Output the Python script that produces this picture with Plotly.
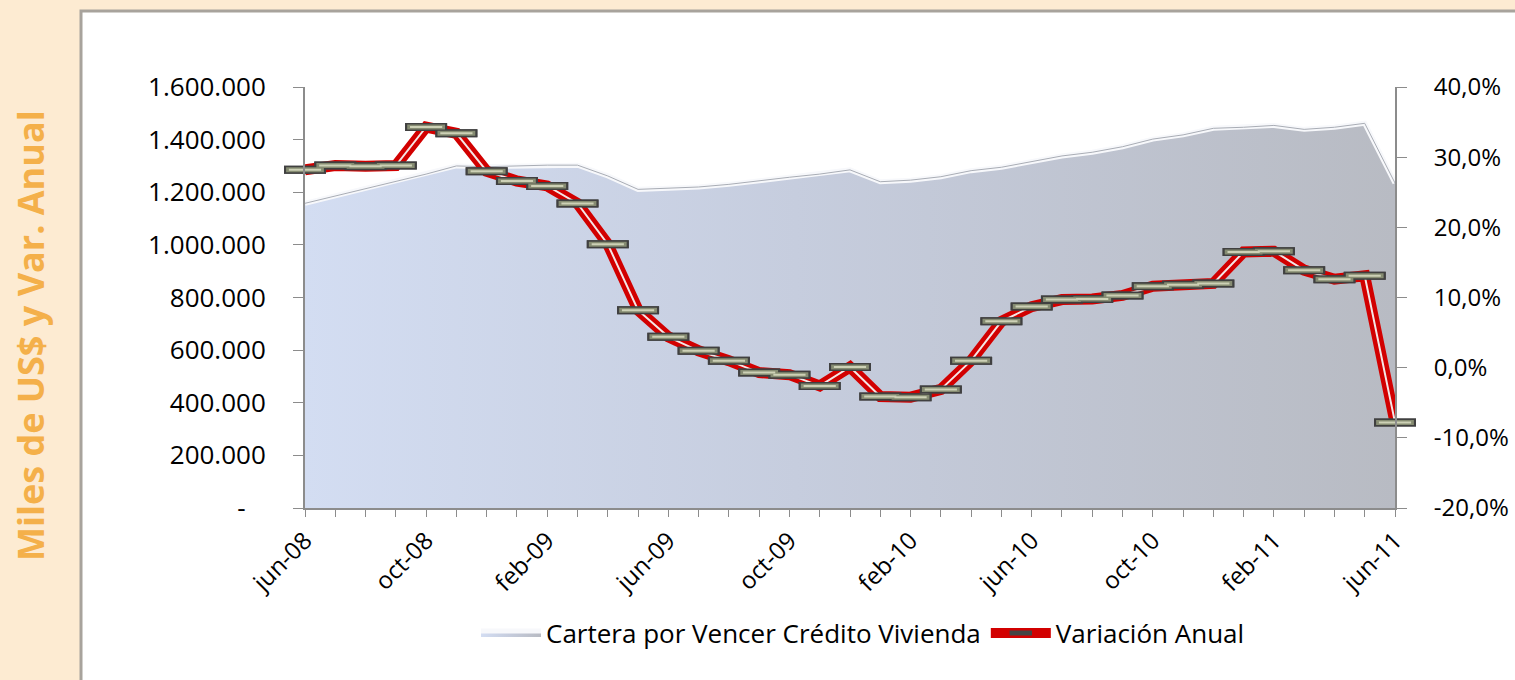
import plotly.graph_objects as go

# monthly categories jun-08 .. jun-11
mes_abrev = ["ene", "feb", "mar", "abr", "may", "jun", "jul", "ago", "sep", "oct", "nov", "dic"]
meses = []
for anio in range(8, 12):
    for m in mes_abrev:
        meses.append(f"{m}-{anio:02d}")
meses = meses[meses.index("jun-08"):meses.index("jun-11") + 1]

# Cartera por Vencer Credito Vivienda (miles de US$)
cartera = [1158000, 1186000, 1213000, 1240000, 1269000, 1300000, 1297000, 1300000,
           1303000, 1303000, 1262000, 1211000, 1215000, 1220000, 1230000, 1244000,
           1257000, 1269000, 1285000, 1240000, 1246000, 1259000, 1282000, 1295000,
           1317000, 1338000, 1352000, 1373000, 1402000, 1418000, 1443000, 1447000,
           1454000, 1439000, 1447000, 1462000, 1235000]

# Variacion anual (%)
variacion = [28.2, 28.8, 28.7, 28.8, 34.3, 33.4, 28.0, 26.6, 25.9, 23.4, 17.6, 8.2,
             4.4, 2.4, 1.0, -0.7, -1.0, -2.6, 0.1, -4.1, -4.2, -3.1, 1.0, 6.6,
             8.7, 9.7, 9.8, 10.3, 11.6, 11.8, 12.0, 16.5, 16.6, 13.9, 12.6, 13.1, -7.8]

left_vals = [0, 200000, 400000, 600000, 800000, 1000000, 1200000, 1400000, 1600000]
left_text = ["-\u00a0\u00a0\u00a0", "200.000", "400.000", "600.000", "800.000",
             "1.000.000", "1.200.000", "1.400.000", "1.600.000"]
right_vals = [-20, -10, 0, 10, 20, 30, 40]
right_text = ["-20,0%", "-10,0%", "0,0%", "10,0%", "20,0%", "30,0%", "40,0%"]

x_text = [m if i % 4 == 0 else "" for i, m in enumerate(meses)]

FONT = "Open Sans"
W, H = 1515, 680
ML, MR, MT, MB = 305, 120, 87, 172
pw, ph = W - ML - MR, H - MT - MB


def px(x):
    return (x - ML) / pw


def py(y):
    return (H - MB - y) / ph


fig = go.Figure()

fig.add_trace(go.Scatter(
    x=meses, y=cartera, name="Cartera por Vencer Crédito Vivienda",
    mode="lines", fill="tozeroy",
    line=dict(color="#F7F8FB", width=5),
    fillgradient=dict(type="horizontal",
                      colorscale=[[0, "#D3DDF2"], [0.45, "#C6CDDE"], [1, "#B8BBC3"]]),
))
fig.add_trace(go.Scatter(
    x=meses, y=cartera, mode="lines", showlegend=False,
    line=dict(color="#A9ADB5", width=1), hoverinfo="skip",
))

# annual variation: red band, white stripe, bar markers
fig.add_trace(go.Scatter(
    x=meses, y=variacion, yaxis="y2", name="Variación Anual",
    mode="lines+markers", cliponaxis=False,
    line=dict(color="#D20000", width=11),
    marker=dict(symbol="line-ew", size=30, line=dict(color="#444444", width=8)),
))
fig.add_trace(go.Scatter(
    x=meses, y=variacion, yaxis="y2", mode="lines", showlegend=False,
    cliponaxis=False, line=dict(color="#F4E6E6", width=2), hoverinfo="skip",
))
for size, width, color in [(30, 8, "#404040"), (27, 5, "#868C72"), (23, 2, "#CDD1B6")]:
    fig.add_trace(go.Scatter(
        x=meses, y=variacion, yaxis="y2", mode="markers", showlegend=False,
        cliponaxis=False, hoverinfo="skip",
        marker=dict(symbol="line-ew", size=size, line=dict(color=color, width=width)),
    ))

fig.update_layout(
    width=W, height=H,
    margin=dict(l=ML, r=MR, t=MT, b=MB),
    paper_bgcolor="#FDEBD2",
    plot_bgcolor="rgba(0,0,0,0)",
    font=dict(family=FONT, size=24, color="#000000"),
    xaxis=dict(
        type="category", range=[0, len(meses) - 1], automargin=False,
        tickmode="array", tickvals=meses, ticktext=x_text, tickangle=-45,
        ticks="outside", ticklen=7, tickcolor="#8C8C8C",
        showline=True, linecolor="#8C8C8C", linewidth=2,
        showgrid=False, zeroline=False,
        tickfont=dict(size=24),
    ),
    yaxis=dict(
        range=[0, 1600000], tickmode="array", tickvals=left_vals, ticktext=left_text,
        automargin=False,
        ticks="outside", ticklen=10, tickcolor="#8C8C8C",
        showline=True, linecolor="#8C8C8C", linewidth=2,
        showgrid=False, zeroline=False, ticklabelstandoff=22,
        tickfont=dict(size=26),
    ),
    yaxis2=dict(
        range=[-20, 40], overlaying="y", side="right", automargin=False,
        tickmode="array", tickvals=right_vals, ticktext=right_text,
        ticks="outside", ticklen=10, tickcolor="#8C8C8C",
        showline=True, linecolor="#8C8C8C", linewidth=2,
        showgrid=False, zeroline=False, ticklabelstandoff=22,
        tickfont=dict(size=24),
    ),
    legend=dict(
        orientation="h", x=px(863), xanchor="center", y=py(633), yanchor="middle",
        font=dict(size=26), itemwidth=60, bgcolor="rgba(0,0,0,0)",
    ),
    shapes=[dict(
        type="rect", xref="paper", yref="paper", layer="below",
        x0=px(81), x1=px(1530), y0=py(700), y1=py(11),
        fillcolor="#FFFFFF", line=dict(color="#A8A39C", width=3),
    )],
    annotations=[dict(
        text="<b>Miles de US$ y Var. Anual</b>", textangle=-90,
        xref="paper", yref="paper", x=px(30), y=py(336),
        xanchor="center", yanchor="middle", showarrow=False,
        font=dict(family=FONT, size=36, color="#F4B04A"),
    )],
)

fig.write_html("out.html", config={"displayModeBar": False},
               post_script="document.body.style.margin='0px';")
